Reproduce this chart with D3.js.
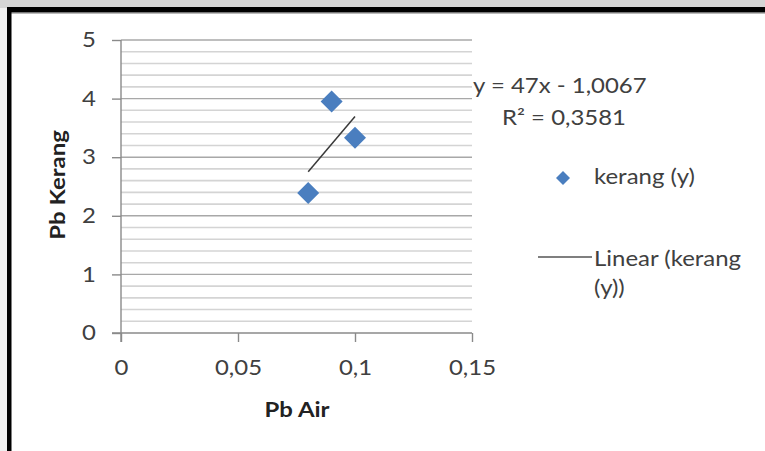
<!DOCTYPE html>
<html>
<head>
<meta charset="utf-8">
<script src="https://cdn.jsdelivr.net/npm/d3@7/dist/d3.min.js"></script>
<style>
html,body{margin:0;padding:0;background:#fff;}
svg{display:block;font-family:Lato,"Open Sans",sans-serif;}
</style>
</head>
<body>
<svg id="chart" width="765" height="451"></svg>
<script>
// ---- data ----
const pbAir = [0.08, 0.09, 0.1];
const pbKerang = [2.39, 3.95, 3.33];
const xTicks = [0, 0.05, 0.1, 0.15];
const xTickLabels = ["0", "0,05", "0,1", "0,15"];
const yTicks = [0, 1, 2, 3, 4, 5];
const yTickLabels = ["0", "1", "2", "3", "4", "5"];
const equationLabel = "y = 47x - 1,0067";
const r2Label = "R² = 0,3581";
const seriesName = "kerang (y)";
const trendNameLines = ["Linear (kerang", "(y))"];
const xTitle = "Pb Air";
const yTitle = "Pb Kerang";

// ---- layout ----
const W = 765, H = 451;
const svg = d3.select("#chart");
const STRETCH = 1.14;
const FS = 21;
const FONT = "Lato,'Open Sans',sans-serif";

// page background / frame
svg.append("rect").attr("x",0).attr("y",0).attr("width",W).attr("height",H).attr("fill","#ffffff");
svg.append("rect").attr("x",0).attr("y",0).attr("width",W).attr("height",8).attr("fill","#d5d5d5");
svg.append("rect").attr("x",0).attr("y",8).attr("width",7).attr("height",H-8).attr("fill","#efefef");
svg.append("rect").attr("x",7).attr("y",7).attr("width",W-7).attr("height",5).attr("fill","#000");
svg.append("rect").attr("x",7).attr("y",12).attr("width",W-7).attr("height",1.5).attr("fill","#777");
svg.append("rect").attr("x",7).attr("y",7).attr("width",4.5).attr("height",H-7).attr("fill","#000");

const x = d3.scaleLinear().domain([0, 0.15]).range([121, 472]);
const y = d3.scaleLinear().domain([0, 5]).range([333, 40]);

// gridlines
const minor = d3.range(0, 5.0001, 0.2).filter(v => Math.abs(v - Math.round(v)) > 1e-6);
svg.append("g").selectAll("line").data(minor).join("line")
  .attr("x1", x(0)).attr("x2", x(0.15))
  .attr("y1", d => y(d)).attr("y2", d => y(d))
  .attr("stroke", "#d4d4d4").attr("stroke-width", 1.6);
svg.append("g").selectAll("line").data(yTicks.filter(v => v > 0)).join("line")
  .attr("x1", x(0)).attr("x2", x(0.15))
  .attr("y1", d => y(d)).attr("y2", d => y(d))
  .attr("stroke", "#a8a8a8").attr("stroke-width", 1.4);

// axes
const yAxis = d3.axisLeft(y).tickValues(yTicks).tickFormat((d,i) => yTickLabels[i])
  .tickSize(9).tickPadding(16);
const gy = svg.append("g").attr("transform", `translate(${x(0)},0)`).call(yAxis);
const xAxis = d3.axisBottom(x).tickValues(xTicks).tickFormat((d,i) => xTickLabels[i])
  .tickSize(9).tickPadding(18);
const gx = svg.append("g").attr("transform", `translate(0,${y(0)})`).call(xAxis);
[gx, gy].forEach(g => {
  g.select(".domain").attr("stroke", "#8a8a8a").attr("stroke-width", 1.4);
  g.selectAll(".tick line").attr("stroke", "#8a8a8a").attr("stroke-width", 1.4);
  g.selectAll("text").attr("fill", "#404040").style("font-size", FS + "px")
    .style("font-family", FONT);
});
gx.select(".domain").attr("d", `M${x(0)-9},0H${x(0.15)}`);
gy.select(".domain").attr("d", `M0,${y(5)}V${y(0)+9}`);

// trendline (least squares from data)
const mx = d3.mean(pbAir), my = d3.mean(pbKerang);
const slope = d3.sum(pbAir, (v,i) => (v-mx)*(pbKerang[i]-my)) / d3.sum(pbAir, v => (v-mx)*(v-mx));
const icpt = my - slope*mx;
const xmin = d3.min(pbAir), xmax = d3.max(pbAir);
svg.append("line")
  .attr("x1", x(xmin)).attr("y1", y(slope*xmin+icpt))
  .attr("x2", x(xmax)).attr("y2", y(slope*xmax+icpt))
  .attr("stroke", "#3a3a3a").attr("stroke-width", 1.5);

// points
const diamond = (r) => `M0,${-r}L${r},0L0,${r}L${-r},0Z`;
svg.append("g").selectAll("path").data(pbAir).join("path")
  .attr("transform", (d,i) => `translate(${x(d)},${y(pbKerang[i])})`)
  .attr("d", diamond(11))
  .attr("fill", "#4a7ebf");

const txt = (xx, yy, s, opts = {}) => svg.append("text")
  .attr("x", xx).attr("y", yy).text(s)
  .attr("fill", opts.fill || "#404040")
  .attr("text-anchor", opts.anchor || "start")
  .attr("font-weight", opts.bold ? "bold" : "normal")
  .style("font-family", FONT)
  .style("font-size", (opts.size || FS) + "px");

// trendline equation
txt(473, 93, equationLabel);
txt(502, 125, r2Label);

// legend
svg.append("path").attr("transform", "translate(563,178)").attr("d", diamond(7)).attr("fill", "#4a7ebf");
txt(594, 184, seriesName);
svg.append("line").attr("x1", 538).attr("x2", 592).attr("y1", 257).attr("y2", 257)
  .attr("stroke", "#555").attr("stroke-width", 1.3);
txt(594, 266, trendNameLines[0]);
txt(594, 295, trendNameLines[1]);

// axis titles
txt(297, 417, xTitle, {anchor: "middle", bold: true, fill: "#222", size: 21});
svg.append("text")
  .attr("transform", "translate(65,185) rotate(-90)")
  .attr("text-anchor", "middle").attr("font-weight", "bold")
  .style("font-family", FONT)
  .attr("fill", "#222").style("font-size", "21px").text(yTitle);

// widen text slightly to match the reference's glyph widths
svg.selectAll("text").each(function() {
  const w = this.getComputedTextLength();
  d3.select(this).attr("textLength", w * STRETCH).attr("lengthAdjust", "spacingAndGlyphs");
});
</script>
</body>
</html>
